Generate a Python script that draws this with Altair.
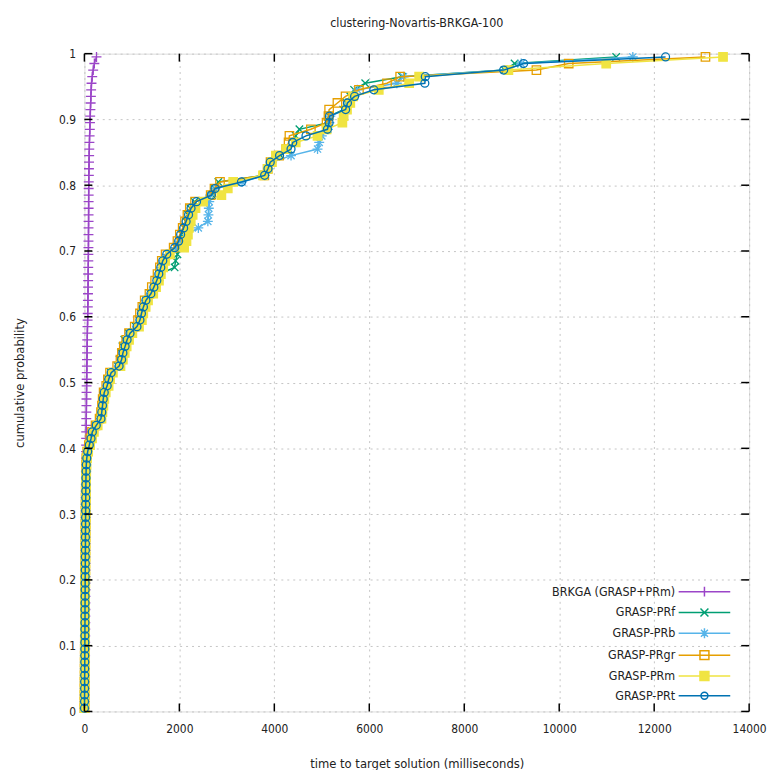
import altair as alt
import pandas as pd

FONT = "DejaVu Sans Condensed, DejaVu Sans, sans-serif"
TEXT = "#222222"

TITLE = "clustering-Novartis-BRKGA-100"
X_TITLE = "time to target solution (milliseconds)"
Y_TITLE = "cumulative probability"

SERIES = ["BRKGA (GRASP+PRm)", "GRASP-PRf", "GRASP-PRb", "GRASP-PRgr", "GRASP-PRm", "GRASP-PRt"]
COLORS = ["#9b45c8", "#009e73", "#56b4e9", "#e69f00", "#f0e442", "#0072b2"]

X_TICKS = [0, 2000, 4000, 6000, 8000, 10000, 12000, 14000]
Y_TICKS = [0, 0.1, 0.2, 0.3, 0.4, 0.5, 0.6, 0.7, 0.8, 0.9, 1.0]

# empirical cumulative probability of the i-th of 100 runs
PROB = [round((k - 0.5) / 100, 3) for k in range(1, 101)]

# times in milliseconds (100 runs per algorithm)
T_BRKGA = [3, 6, 8, 10, 11, 12, 13, 14, 15, 16,
           17, 18, 19, 19, 20, 21, 21, 22, 23, 23,
           24, 24, 25, 25, 26, 26, 27, 27, 28, 28,
           29, 29, 30, 30, 31, 32, 32, 33, 34, 35,
           36, 37, 38, 39, 40, 41, 43, 44, 45, 47,
           48, 50, 52, 54, 56, 58, 60, 62, 65, 68,
           70, 72, 74, 76, 77, 79, 80, 81, 83, 84,
           85, 86, 86, 87, 88, 88, 89, 89, 90, 90,
           92, 94, 96, 98, 100, 103, 106, 110, 114, 118,
           122, 127, 132, 137, 142, 150, 165, 185, 210, 255]

PRF_LOW = [1, 2, 3, 4, 5, 6, 6, 7, 8, 9, 9, 10, 11, 12, 12, 13, 14, 15, 15, 16,
           17, 18, 19, 19, 20, 21, 22, 23, 24, 25, 26, 27, 28, 30, 32, 34, 37, 41]
PRF_HIGH = [45, 65, 95, 130, 175, 240, 330, 360, 375, 395,
            415, 470, 500, 560, 700, 740, 770, 800, 840, 930,
            1080, 1150, 1190, 1240, 1300, 1390, 1460, 1520, 1580, 1900,
            1920, 1960, 1990, 2030, 2060, 2100, 2140, 2180, 2230, 2320,
            2690, 2740, 2821, 3780, 3850, 3930, 4130, 4300, 4400, 4450,
            4528, 5130, 5160, 5450, 5520, 5600, 5680, 5914, 6690, 8850,
            9060, 11200]

PRB_LOW = [2, 3, 3, 4, 5, 6, 7, 7, 8, 9, 10, 10, 11, 12, 13, 14, 14, 15, 16, 17,
           18, 18, 19, 20, 21, 22, 23, 24, 25, 26, 27, 28, 29, 31, 33, 35, 38, 42]
PRB_HIGH = [50, 72, 110, 150, 180, 260, 340, 370, 385, 400,
            425, 490, 520, 580, 720, 790, 820, 870, 910, 980,
            1120, 1180, 1210, 1260, 1310, 1420, 1500, 1567, 1600, 1640,
            1680, 1760, 1920, 2000, 2150, 2400, 2600, 2612, 2620, 2630,
            2647, 2760, 3320, 3800, 3880, 3950, 4352, 4910, 4946, 5000,
            5130, 5160, 5180, 5510, 5560, 5690, 5750, 6580, 6720, 8900,
            9200, 11550]

PRGR_LOW = [1, 2, 3, 4, 4, 5, 6, 7, 8, 8, 9, 10, 11, 11, 12, 13, 14, 14, 15, 16,
            17, 18, 18, 19, 20, 21, 22, 23, 24, 24, 25, 26, 27, 28, 30, 32, 34, 37]
PRGR_HIGH = [40, 60, 95, 125, 160, 235, 320, 350, 370, 385,
             405, 460, 495, 540, 690, 760, 790, 830, 880, 940,
             1060, 1130, 1170, 1220, 1270, 1370, 1420, 1490, 1540, 1590,
             1630, 1710, 1880, 1960, 2010, 2070, 2120, 2170, 2220, 2330,
             2660, 2740, 2856, 3790, 3860, 3920, 4100, 4250, 4300, 4318,
             4770, 5100, 5140, 5154, 5329, 5500, 5782, 6373, 6650, 9520,
             10200, 13080]

PRM_LOW = [2, 3, 4, 5, 6, 7, 8, 8, 9, 10, 11, 12, 12, 13, 14, 15, 16, 16, 17, 18,
           19, 20, 21, 22, 23, 23, 24, 25, 26, 27, 28, 29, 30, 32, 34, 36, 39, 44]
PRM_HIGH = [55, 80, 120, 160, 200, 280, 360, 380, 400, 420,
            450, 510, 540, 600, 760, 810, 850, 890, 940, 1010,
            1150, 1210, 1240, 1290, 1340, 1450, 1510, 1570, 1610, 1660,
            1700, 1800, 2100, 2150, 2180, 2200, 2240, 2280, 2340, 2500,
            2885, 3020, 3134, 3761, 3860, 3950, 4033, 4250, 4451, 4910,
            5100, 5433, 5460, 5530, 5600, 5660, 6200, 6840, 7050, 8930,
            10990, 13450]

PRT_LOW = [2, 3, 4, 5, 5, 6, 7, 8, 8, 9, 10, 11, 11, 12, 13, 13, 14, 15, 16, 16,
           17, 18, 19, 20, 21, 22, 22, 23, 24, 25, 26, 27, 28, 29, 31, 33, 36, 40]
PRT_HIGH = [50, 69, 104, 140, 167, 250, 349, 366, 382, 397,
            418, 480, 512, 564, 731, 784, 811, 857, 899, 961,
            1107, 1170, 1202, 1243, 1296, 1400, 1463, 1525, 1567, 1609,
            1651, 1734, 1902, 1985, 2027, 2090, 2142, 2194, 2246, 2361,
            2675, 2752, 3308, 3796, 3866, 3914, 4110, 4352, 4388, 4667,
            5119, 5154, 5160, 5502, 5540, 5690, 6095, 7170, 7180, 8830,
            9250, 12240]

TIMES = [T_BRKGA, PRF_LOW + PRF_HIGH, PRB_LOW + PRB_HIGH,
         PRGR_LOW + PRGR_HIGH, PRM_LOW + PRM_HIGH, PRT_LOW + PRT_HIGH]
for t in TIMES:
    assert len(t) == 100, len(t)

rows = []
for name, times in zip(SERIES, TIMES):
    for p, t in zip(PROB, times):
        rows.append({"series": name, "time": t, "prob": p})
df = pd.DataFrame(rows)

# marker glyphs (gnuplot point types 1..6)
PLUS = "M-1,0L1,0M0,-1L0,1"
CROSS = "M-0.75,-0.75L0.75,0.75M-0.75,0.75L0.75,-0.75"
STAR = "M-1,0L1,0M0,-1L0,1M-0.72,-0.72L0.72,0.72M-0.72,0.72L0.72,-0.72"
SQUARE = "M-0.85,-0.85L0.85,-0.85L0.85,0.85L-0.85,0.85Z"
CIRCLE = "M-0.8,0A0.8,0.8,0,1,0,0.8,0A0.8,0.8,0,1,0,-0.8,0Z"
MARKERS = [PLUS, CROSS, STAR, SQUARE, SQUARE, CIRCLE]
MARKER_FILL = [None, None, None, None, COLORS[4], None]

# legend samples: a line with the marker in its middle, drawn right of the label
M = 31.14
LEG_LINE = "M25.94,0L36.34,0"
LEG_MARKERS = [
    f"M{M-1.0},0L{M+1.0},0M{M},-1.0L{M},1.0",
    f"M{M-0.8},-0.8L{M+0.8},0.8M{M-0.8},0.8L{M+0.8},-0.8",
    f"M{M-1.0},0L{M+1.0},0M{M},-1.0L{M},1.0M{M-0.7},-0.7L{M+0.7},0.7M{M-0.7},0.7L{M+0.7},-0.7",
    f"M{M-0.9},-0.9L{M+0.9},-0.9L{M+0.9},0.9L{M-0.9},0.9Z",
    f"M{M-0.9},-0.9L{M+0.9},-0.9L{M+0.9},0.9L{M-0.9},0.9Z",
    f"M{M-0.7},0A0.7,0.7,0,1,0,{M+0.7},0A0.7,0.7,0,1,0,{M-0.7},0Z",
]
LEG_PATHS = [LEG_LINE + m for m in LEG_MARKERS]
LEG_FILLS = ["transparent", "transparent", "transparent", "transparent", COLORS[4], "transparent"]

W, H = 670, 663

xscale = alt.Scale(domain=[0, 14000], nice=False, zero=False)
yscale = alt.Scale(domain=[0, 1], nice=False, zero=False)

GRID = dict(grid=True, gridColor="#c4c4c4", gridDash=[2, 4], gridWidth=1)
xaxis = alt.Axis(values=X_TICKS, format="d", labelFont=FONT, labelFontSize=12,
                 labelColor=TEXT, labelPadding=12, labelFlush=False, labelOverlap=False,
                 ticks=False, domain=False, title=X_TITLE, titleFont=FONT,
                 titleFontSize=13, titleFontWeight="normal", titleColor=TEXT,
                 titleY=52, titleBaseline="middle", **GRID)
yaxis = alt.Axis(values=Y_TICKS, format=".1~f", labelFont=FONT, labelFontSize=12,
                 labelColor=TEXT, labelPadding=9, labelOverlap=False, labelFlush=False,
                 ticks=False, domain=False, title=Y_TITLE, titleFont=FONT,
                 titleFontSize=13, titleFontWeight="normal", titleColor=TEXT,
                 titleX=-65, titleY=H / 2, titleBaseline="middle", **GRID)

X = alt.X("time:Q", scale=xscale, axis=xaxis, title=X_TITLE)
Y = alt.Y("prob:Q", scale=yscale, axis=yaxis, title=Y_TITLE)

legend = alt.Legend(title=None, orient="none", legendX=463, legendY=536,
                    direction="vertical", symbolSize=100, symbolStrokeWidth=1.5,
                    symbolOpacity=1, labelAlign="right", labelOffset=120,
                    labelFont=FONT, labelFontSize=12.5, labelColor=TEXT,
                    rowPadding=5, padding=0, labelLimit=300)
COLOR = alt.Color("series:N", scale=alt.Scale(domain=SERIES, range=COLORS), legend=legend)
SHAPE = alt.Shape("series:N", scale=alt.Scale(domain=SERIES, range=LEG_PATHS), legend=legend)
FILL = alt.Fill("series:N", scale=alt.Scale(domain=SERIES, range=LEG_FILLS), legend=legend)

layers = []
for i, name in enumerate(SERIES):
    base = alt.Chart(df).transform_filter(alt.datum.series == name)
    line = base.mark_line(strokeWidth=1.5, clip=False).encode(
        x=X, y=Y, color=COLOR, order=alt.Order("prob:Q"))
    enc = dict(x=X, y=Y, color=COLOR)
    if MARKER_FILL[i]:
        enc["fill"] = alt.value(MARKER_FILL[i])
    pts = base.mark_point(shape=MARKERS[i], size=100, filled=False,
                          strokeWidth=1.3, opacity=1, clip=False).encode(**enc)
    layers += [line, pts]

# carrier of the legend's glyphs only: its data is filtered away, so it draws no mark
legend_carrier = alt.Chart(df).transform_filter("false").mark_point(
    size=100, strokeWidth=1.5, opacity=1).encode(
    x=X, y=Y, color=COLOR, shape=SHAPE, fill=FILL)
layers.append(legend_carrier)

xt = pd.DataFrame({"time": X_TICKS})
yt = pd.DataFrame({"prob": Y_TICKS})
tick_style = dict(color="black", strokeWidth=1.5)
tb = alt.Chart(xt).mark_rule(**tick_style).encode(x=X, y=alt.value(H), y2=alt.value(H - 8))
tt = alt.Chart(xt).mark_rule(**tick_style).encode(x=X, y=alt.value(0), y2=alt.value(8))
tl = alt.Chart(yt).mark_rule(**tick_style).encode(y=Y, x=alt.value(0), x2=alt.value(8))
tr = alt.Chart(yt).mark_rule(**tick_style).encode(y=Y, x=alt.value(W), x2=alt.value(W - 8))
layers += [tb, tt, tl, tr]

chart = alt.layer(*layers).properties(
    width=W, height=H,
    title=alt.Title(TITLE, font=FONT, fontSize=12.5, fontWeight="normal",
                    color=TEXT, offset=5, baseline="bottom"),
    autosize=alt.AutoSizeParams(type="none"),
    padding={"left": 77, "top": 43, "right": 18, "bottom": 56},
).configure_view(stroke="black", strokeWidth=1.2).configure(background="white")

chart.save("out.html", embed_options={"renderer": "svg", "actions": False})
